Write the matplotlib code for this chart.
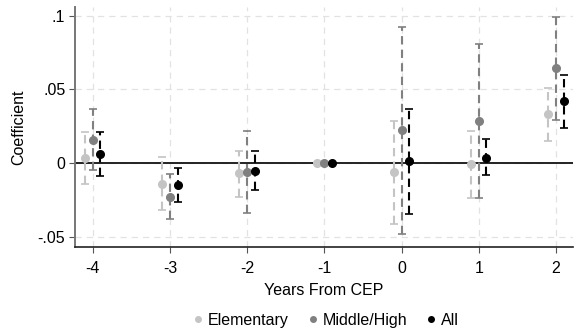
import matplotlib
matplotlib.use('Agg')
import matplotlib.pyplot as plt
from matplotlib.lines import Line2D
import numpy as np

plt.rcParams['font.family'] = ['Liberation Sans', 'DejaVu Sans']

years = [-4, -3, -2, -1, 0, 1, 2]

elem_coef = [0.0032, -0.0139, -0.0068, 0.0, -0.0062, -0.0007, 0.0330]
elem_lo = [-0.0139, -0.0320, -0.0226, 0.0, -0.0410, -0.0235, 0.0153]
elem_hi = [0.0210, 0.0039, 0.0084, 0.0, 0.0286, 0.0217, 0.0507]

mid_coef = [0.0160, -0.0230, -0.0062, 0.0, 0.0224, 0.0288, 0.0642]
mid_lo = [-0.0046, -0.0377, -0.0340, 0.0, -0.0477, -0.0233, 0.0290]
mid_hi = [0.0370, -0.0075, 0.0217, 0.0, 0.0925, 0.0810, 0.0993]

all_coef = [0.0062, -0.0146, -0.0050, 0.0, 0.0012, 0.0036, 0.0418]
all_lo = [-0.0087, -0.0260, -0.0180, 0.0, -0.0345, -0.0082, 0.0238]
all_hi = [0.0210, -0.0034, 0.0080, 0.0, 0.0370, 0.0162, 0.0600]

groups = [
    ('Elementary', elem_coef, elem_lo, elem_hi, '#c4c4c4', -0.1),
    ('Middle/High', mid_coef, mid_lo, mid_hi, '#808080', 0.0),
    ('All', all_coef, all_lo, all_hi, '#000000', 0.1),
]

fig = plt.figure(figsize=(5.75, 3.33), dpi=100)
ax = fig.add_axes([0.1304, 0.258, 0.866, 0.722])

ax.axhline(0, color='#222222', lw=1.4, zorder=1)

handles = []
for name, coef, lo, hi, col, off in groups:
    x = np.array(years) + off
    c = np.array(coef)
    yerr = [c - np.array(lo), np.array(hi) - c]
    eb = ax.errorbar(x, c, yerr=yerr, fmt='o', color=col, ms=5.5,
                     ecolor=col, elinewidth=1.5, capsize=3, capthick=1.2,
                     zorder=3)
    eb[2][0].set_linestyle((0, (4, 2.5)))
    handles.append(Line2D([], [], marker='o', ls='', color=col, ms=4, label=name))

ax.set_xlim(-4.23, 2.22)
ax.set_ylim(-0.0568, 0.106)
ax.set_xticks(years)
ax.set_xticklabels([str(y) for y in years])
ax.set_yticks([-0.05, 0, 0.05, 0.1])
ax.set_yticklabels(['-.05', '0', '.05', '.1'])
ax.grid(True, color='#e2e2e2', ls=(0, (5, 4)), lw=0.9, zorder=0)
ax.set_axisbelow(True)

for s in ['top', 'right']:
    ax.spines[s].set_visible(False)
ax.spines['left'].set_color('#777777')
ax.spines['left'].set_linewidth(1.4)
ax.spines['bottom'].set_color('#222222')
ax.spines['bottom'].set_linewidth(1.2)
ax.tick_params(axis='both', labelsize=11.5, length=4, color='#555555')
ax.tick_params(axis='y', pad=3)
ax.tick_params(axis='x', pad=6)

ax.set_ylabel('Coefficient', fontsize=11.5, labelpad=8)
ax.set_xlabel('Years From CEP', fontsize=11.5, labelpad=5)

fig.legend(handles=handles, loc='center', bbox_to_anchor=(0.567, 0.039),
           ncol=3, frameon=False, fontsize=11.5, handletextpad=0.3,
           columnspacing=1.2, handlelength=0.6)

fig.savefig('out.png', dpi=100)
